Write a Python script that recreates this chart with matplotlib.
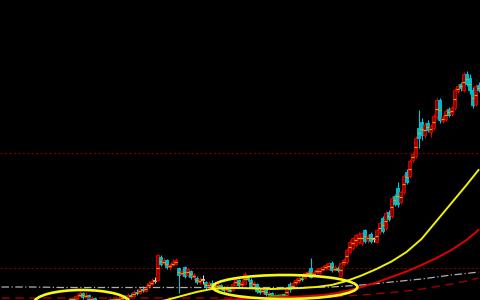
import matplotlib
matplotlib.use("Agg")
import matplotlib.pyplot as plt

from matplotlib.patches import Ellipse

# daily candles, price in chart units (only the upper part of the move is in view)
opens = [
    -6, -9, -7, -11, -10, -13, -12, -9, -10, -8,
    -11, -9, -7, -8, -6, -8, -5, -6, -4, -5,
    -3, -1, -3, 0, 2, 1, 4, 7, 3, 5,
    1, 2, -1, -3, -2, -4, -1, 1, 0, 2,
    1, 3, 2, 5, 4, 8, 7, 11, 9, 13,
    16, 19, 20, 43, 37, 40, 33, 35, 36, 32,
    26, 33, 25, 29, 23, 22, 18, 20, 18, 14,
    17, 15, 13, 15, 12, 10, 12, 10, 15, 20,
    15, 16, 22, 20, 15, 16, 10, 8, 10, 6,
    7, 4, 5, 3, 6, 4, 16, 12, 17, 19,
    22, 22, 26, 32, 25, 28, 27, 30, 32, 31,
    37, 30, 32, 24, 36, 38, 48, 52, 55, 58,
    57, 70, 60, 66, 61, 58, 68, 82, 72, 88,
    84, 104, 112, 98, 108, 128, 124, 140, 144, 172,
    178, 165, 177, 168, 172, 183, 200, 179, 181, 191,
    186, 192, 209, 216, 210, 226, 222, 210, 196, 215,
]
closes = [
    -9, -7, -11, -10, -13, -12, -9, -10, -8, -11,
    -9, -7, -8, -6, -8, -5, -6, -4, -5, -3,
    -1, -3, 0, 2, 1, 4, 7, 3, 5, 1,
    2, -1, -3, -2, -4, -1, 1, -1, 2, 1,
    3, 2, 5, 4, 8, 7, 11, 10, 13, 17,
    19, 19, 45, 36, 40, 33, 35, 38, 40, 25,
    29, 24, 31, 23, 25, 18, 21, 20, 13, 17,
    15, 13, 15, 12, 10, 13, 9, 16, 21, 15,
    18, 26, 21, 14, 17, 9, 8, 10, 6, 7,
    4, 5, 3, 6, 4, 12, 11, 17, 20, 22,
    21, 27, 28, 23, 28, 30, 32, 33, 35, 37,
    30, 33, 30, 37, 40, 50, 58, 62, 65, 66,
    67, 59, 64, 59, 61, 70, 77, 69, 87, 81,
    102, 96, 96, 108, 124, 118, 139, 146, 162, 162,
    165, 175, 170, 174, 184, 200, 180, 183, 189, 185,
    192, 210, 214, 212, 226, 216, 210, 195, 214, 210,
]
highs = [
    -4, -5, -6, -8, -9, -10, -8, -7, -6, -7,
    -8, -5, -5, -4, -5, -4, -3, -2, -2, -1,
    0, 0, 1, 3, 4, 6, 9, 8, 8, 6,
    4, 3, 0, 0, -1, 0, 3, 2, 4, 4,
    5, 5, 7, 7, 10, 11, 13, 14, 15, 19,
    22, 23, 46, 45, 42, 41, 37, 41, 42, 33,
    31, 34, 32, 30, 27, 24, 23, 25, 19, 19,
    20, 17, 17, 16, 14, 15, 14, 18, 22, 21,
    20, 28, 24, 22, 19, 17, 12, 12, 11, 9,
    8, 7, 6, 7, 7, 13, 18, 19, 22, 24,
    24, 28, 30, 42, 30, 32, 33, 35, 37, 38,
    39, 35, 34, 38, 42, 52, 60, 63, 66, 68,
    68, 71, 66, 68, 63, 71, 79, 84, 89, 90,
    104, 106, 118, 110, 126, 131, 141, 148, 164, 190,
    182, 178, 180, 176, 186, 202, 202, 185, 191, 193,
    194, 212, 216, 218, 228, 229, 226, 213, 216, 218,
]
lows = [
    -11, -11, -13, -14, -15, -16, -14, -12, -12, -13,
    -13, -10, -10, -9, -10, -9, -8, -7, -7, -6,
    -5, -5, -4, -2, -1, 0, 3, 1, 2, 0,
    -1, -3, -5, -5, -6, -5, -2, -3, -1, 0,
    0, 1, 1, 3, 3, 5, 6, 8, 8, 12,
    15, 17, 19, 34, 35, 31, 30, 34, 35, 7,
    24, 22, 23, 21, 20, 16, 16, 16, 11, 12,
    13, 11, 11, 10, 8, 8, 8, 9, 14, 13,
    13, 15, 19, 12, 13, 7, 6, 6, 4, 4,
    2, 2, 1, 1, 2, 3, 8, 11, 15, 17,
    19, 21, 24, 22, 24, 26, 26, 29, 30, 30,
    28, 29, 28, 23, 34, 36, 46, 50, 53, 56,
    55, 57, 57, 57, 58, 57, 66, 67, 70, 79,
    82, 94, 93, 96, 106, 116, 122, 138, 142, 152,
    160, 162, 168, 163, 170, 181, 177, 177, 179, 183,
    184, 190, 207, 209, 208, 214, 206, 192, 194, 208,
]

ma_idx = [0, 5, 10, 15, 20, 25, 30, 35, 40, 45, 50, 55, 60, 65, 70, 75, 80,
          85, 90, 95, 100, 105, 110, 115, 120, 125, 130, 135, 140, 145, 150,
          155, 159]
ma_yellow = [-20, -18, -16, -14, -12, -10.5, -9, -7.5, -6, -4.5, -3, 0, 4, 8,
             11, 12, 12, 11.5, 11, 11.5, 12, 13, 15, 19, 24.5, 31, 38.5, 48,
             61, 79, 97, 115, 130]
ma_red = [-20, -18.5, -17, -15.5, -14, -12.5, -11, -9.5, -8, -6.5, -5, -4, -3,
          -2, -1, 0, 1, 2, 2.5, 3, 3.5, 4.5, 6, 9, 13, 17.5, 23, 28.5, 35, 42,
          50, 60, 70]
ma_gray = [13, 13, 13, 12.8, 12.5, 12.5, 12.5, 12.5, 12.5, 12.5, 12.5, 12.5,
           12.5, 12.5, 12.5, 12.5, 12.5, 12.5, 12.5, 12.5, 12.5, 12.7, 13, 14,
           15, 16.5, 18, 19.5, 21, 23, 25, 26.5, 28]
ma_darkred = [2, 2, 2, 2, 2, 2, 2, 2, 2, 2, 2, 2, 2, 2, 2, 2, 2, 2, 2, 2, 2.5,
              2.7, 3, 4, 5, 6.2, 7.5, 9, 11, 13.5, 16, 19, 22]

levels = [147, 32]          # dotted price levels
support_bars = [89, 95]     # short green support segment
support_price = 4

# hand drawn yellow rings: (center bar, center price, width in bars, height)
rings = [(26.8, -3, 32, 26), (94.5, 13, 48.3, 24)]


def candle_style(o, c):
    if c > o:
        return "#8a0000", "#e80000", "#e80000"
    if c < o:
        return "#00b8c8", "#00c8d8", "#00c8d8"
    return "#d8d8d8", "#d8d8d8", "#d8d8d8"


fig = plt.figure(figsize=(4.8, 3.0), dpi=100, facecolor="black")
ax = fig.add_axes([0, 0, 1, 1])
ax.set_facecolor("black")

idx = list(range(len(opens)))
faces, edges, wicks, bottoms, heights = [], [], [], [], []
for o, c in zip(opens, closes):
    f, e, w = candle_style(o, c)
    faces.append(f)
    edges.append(e)
    wicks.append(w)
    bottoms.append(min(o, c))
    heights.append(max(abs(c - o), 0.8))

for lvl in levels:
    ax.axhline(lvl, color="#7a0000", linewidth=0.8,
               linestyle=(0, (2, 2)), zorder=1)

ax.vlines(idx, lows, highs, colors=wicks, linewidth=0.8, zorder=2)
ax.bar(idx, heights, bottom=bottoms, width=0.72, color=faces,
       edgecolor=edges, linewidth=0.6, zorder=3)
mids = [(o + c) / 2 for o, c in zip(opens, closes)]
ax.hlines(mids, [i - 0.35 for i in idx], [i + 0.35 for i in idx],
          colors="#e0a000", linewidth=0.9, zorder=4)

ax.plot(support_bars, [support_price] * 2, color="#00c000",
        linewidth=1.2, zorder=4)

ax.plot(ma_idx, ma_darkred, color="#a00000", linewidth=1.0,
        linestyle=(0, (6, 4)), zorder=5)
ax.plot(ma_idx, ma_gray, color="#b0b0b0", linewidth=0.9,
        linestyle=(0, (6, 2, 1, 2)), zorder=5)
ax.plot(ma_idx, ma_red, color="#e00000", linewidth=1.4, zorder=5)
ax.plot(ma_idx, ma_yellow, color="#f0f000", linewidth=1.4, zorder=5)

for cx, cy, w, h in rings:
    ax.add_patch(Ellipse((cx, cy), w, h, fill=False, edgecolor="#f8f818",
                         linewidth=1.9, zorder=6))

ax.set_xlim(-0.5, len(opens) - 0.5)
ax.set_ylim(0, 300)
ax.axis("off")

fig.savefig("out.png", dpi=100, facecolor="black")
